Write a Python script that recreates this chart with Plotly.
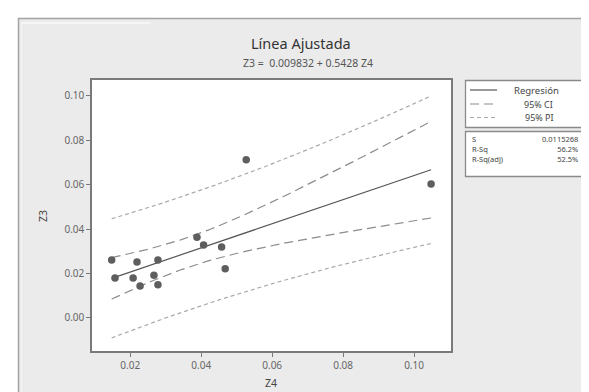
import numpy as np
import plotly.graph_objects as go

# Data
z4 = [0.01476, 0.01569, 0.0219, 0.0208, 0.02276, 0.02667, 0.0278, 0.0278,
      0.0388, 0.04067, 0.04575, 0.04676, 0.05268, 0.1048]
z3 = [0.0261, 0.0180, 0.0252, 0.0180, 0.0144, 0.0192, 0.0261, 0.0150,
      0.0363, 0.0328, 0.0319, 0.0222, 0.0712, 0.0603]

# Fit statistics shown in the chart
b0 = 0.009832
b1 = 0.5428
s_err = 0.0115268
r_sq = "56.2%"
r_sq_adj = "52.5%"
t_crit = 2.1788  # t(0.975, df=12)

x_ticks = [0.02, 0.04, 0.06, 0.08, 0.10]
y_ticks = [0.00, 0.02, 0.04, 0.06, 0.08, 0.10]

x = np.array(z4)
n = len(x)
xbar = x.mean()
sxx = ((x - xbar) ** 2).sum()
xg = np.linspace(x.min(), x.max(), 120)
yhat = b0 + b1 * xg
ci = t_crit * s_err * np.sqrt(1 / n + (xg - xbar) ** 2 / sxx)
pi = t_crit * s_err * np.sqrt(1 + 1 / n + (xg - xbar) ** 2 / sxx)

W, H = 589, 392
def px(v):
    return v / W
def py(v):
    return 1 - v / H

PL, PR, PT, PB = 84, 443.3, 72, 343.3

FONT = "Noto Sans"
fig = go.Figure()
pi_style = dict(color="#aaaaaa", width=1.2, dash="4px,3px")
ci_style = dict(color="#8c8c8c", width=1.2, dash="9px,5px")
fig.add_trace(go.Scatter(x=xg, y=yhat + pi, mode="lines", line=pi_style, showlegend=False, hoverinfo="skip"))
fig.add_trace(go.Scatter(x=xg, y=yhat - pi, mode="lines", line=pi_style, showlegend=False, hoverinfo="skip"))
fig.add_trace(go.Scatter(x=xg, y=yhat + ci, mode="lines", line=ci_style, showlegend=False, hoverinfo="skip"))
fig.add_trace(go.Scatter(x=xg, y=yhat - ci, mode="lines", line=ci_style, showlegend=False, hoverinfo="skip"))
fig.add_trace(go.Scatter(x=xg, y=yhat, mode="lines", line=dict(color="#555555", width=1.2),
                         showlegend=False, hoverinfo="skip"))
fig.add_trace(go.Scatter(x=z4, y=z3, mode="markers",
                         marker=dict(color="#5e5e5e", size=7.5), showlegend=False))

shapes = [
    # outer frame
    dict(type="rect", xref="paper", yref="paper", x0=px(10.5), x1=px(600), y0=py(400), y1=py(10.5),
         fillcolor="#ebebeb", line=dict(color="#a3a3a3", width=1.5), layer="below"),
    dict(type="line", xref="paper", yref="paper", x0=px(14), x1=px(143), y0=py(15), y1=py(15),
         line=dict(color="#f8f8f8", width=1.5), layer="below"),
    dict(type="line", xref="paper", yref="paper", x0=px(13.5), x1=px(13.5), y0=py(395), y1=py(14),
         line=dict(color="#f4f4f4", width=1), layer="below"),
    # white plot area
    dict(type="rect", xref="paper", yref="paper", x0=px(PL), x1=px(PR), y0=py(PB), y1=py(PT),
         fillcolor="white", line=dict(width=0), layer="below"),
    # legend boxes
    dict(type="rect", xref="paper", yref="paper", x0=px(457.5), x1=px(579), y0=py(119.5), y1=py(72.5),
         fillcolor="white", line=dict(color="#8a8a8a", width=1.3)),
    dict(type="rect", xref="paper", yref="paper", x0=px(457.5), x1=px(579), y0=py(168.5), y1=py(123.5),
         fillcolor="white", line=dict(color="#8a8a8a", width=1.3)),
    dict(type="line", xref="paper", yref="paper", x0=px(462), x1=px(489), y0=py(82), y1=py(82),
         line=dict(color="#555555", width=1.2)),
    dict(type="line", xref="paper", yref="paper", x0=px(462), x1=px(489), y0=py(96), y1=py(96),
         line=ci_style),
    dict(type="line", xref="paper", yref="paper", x0=px(462), x1=px(489), y0=py(109.5), y1=py(109.5),
         line=pi_style),
]

ann = []
def text(t, x0, y0, size, xanchor="center", color="#444444", font=FONT, yanchor="middle", align="center"):
    ann.append(dict(text=t, x=px(x0), y=py(y0), xref="paper", yref="paper", showarrow=False,
                    xanchor=xanchor, yanchor=yanchor, align=align,
                    font=dict(family=font, size=size, color=color)))

text("Línea Ajustada", 293, 35, 14.5, color="#333333")
text(f"Z3 =  {b0:.6f} + {b1:.4f} Z4", 300, 55, 10.5, color="#555555")
text("Z3", 35, 208, 10.5, color="#444444")
ann[-1]["textangle"] = -90
text("Z4", 263, 375, 10.5, color="#444444")
text("Regresión", 528, 82.5, 9.5)
text("95% CI", 530, 96.5, 9)
text("95% PI", 531, 110, 9)
text("S<br>R-Sq<br>R-Sq(adj)", 462, 141, 7.5, xanchor="left", align="left")
text(f"{s_err}<br>{r_sq}<br>{r_sq_adj}", 572, 141, 7.5, xanchor="right", align="right")

axis_common = dict(showgrid=False, zeroline=False, showline=True, linecolor="#7a7a7a", linewidth=1.5,
                   mirror=True, ticks="outside", ticklen=4, tickcolor="#7a7a7a",
                   tickfont=dict(family=FONT, size=10, color="#666666"))
fig.update_layout(
    width=W, height=H, margin=dict(l=0, r=0, t=0, b=0),
    paper_bgcolor="white", plot_bgcolor="white",
    xaxis=dict(domain=[px(PL), px(PR)], range=[0.00921, 0.1105], tickvals=x_ticks,
               ticktext=[f"{v:.2f}" for v in x_ticks], **axis_common),
    yaxis=dict(domain=[py(PB), py(PT)], range=[-0.0150, 0.1071], tickvals=y_ticks,
               ticktext=[f"{v:.2f}" for v in y_ticks], **axis_common),
    shapes=shapes, annotations=ann, showlegend=False,
)
fig.write_html("out.html")
